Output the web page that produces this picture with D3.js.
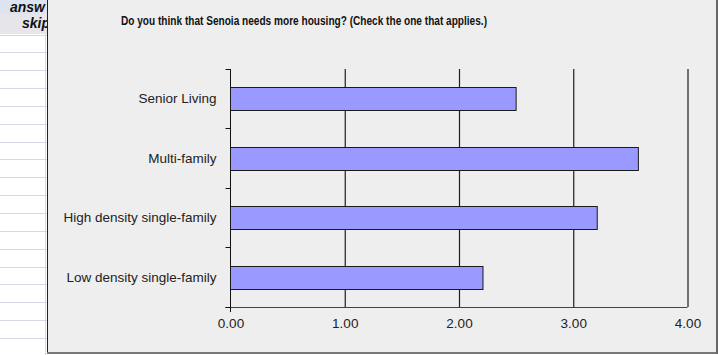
<!DOCTYPE html>
<html>
<head>
<meta charset="utf-8">
<script src="https://cdn.jsdelivr.net/npm/d3@7"></script>
<style>
  body { margin: 0; background: #fff; }
  svg { display: block; font-family: "Liberation Sans", Arial, sans-serif; }
</style>
</head>
<body>
<svg id="chart" width="718" height="355"></svg>
<script>
// chart data
const categories = ["Senior Living", "Multi-family", "High density single-family", "Low density single-family"];
const values = [2.50, 3.57, 3.21, 2.21];
const xTicks = [0, 1, 2, 3, 4];
const titleText = "Do you think that Senoia needs more housing? (Check the one that applies.)";
// spreadsheet cells peeking out on the left
const sheetHeaders = ["answ", "skip"];

const svg = d3.select('#chart');
const W = 718, H = 355;
const panelLeft = 47;
const plot = {left: 230.5, right: 687.5, top: 69, bottom: 307};

// ---- spreadsheet behind the chart ----
const sheet = svg.append('g');
sheet.append('rect').attr('x', 0).attr('y', 0).attr('width', panelLeft).attr('height', H).attr('fill', '#ffffff');
sheet.append('rect').attr('x', 0).attr('y', 0).attr('width', panelLeft).attr('height', 14).attr('fill', '#dce4f0');
sheet.append('rect').attr('x', 0).attr('y', 14).attr('width', panelLeft).attr('height', 20).attr('fill', '#e5e5ea');
let rowLines = d3.range(34.5, H, 17.85);
sheet.selectAll('line.row')
    .data(rowLines)
    .enter()
    .append('line')
    .attr('class', 'row')
    .attr('x1', 0).attr('x2', panelLeft)
    .attr('y1', d => Math.round(d) + 0.5).attr('y2', d => Math.round(d) + 0.5)
    .attr('stroke', '#d4d8e4')
;
sheet.append('line')
    .attr('x1', 45.5).attr('x2', 45.5).attr('y1', 34).attr('y2', H)
    .attr('stroke', '#d4d8e4');
sheet.selectAll('text')
    .data(sheetHeaders)
    .enter()
    .append('text')
    .attr('x', (d, i) => i === 0 ? 10 : 22)
    .attr('y', (d, i) => i === 0 ? 12 : 28)
    .style('font-size', '14px')
    .style('font-weight', 'bold')
    .style('font-style', 'italic')
    .attr('fill', '#111')
    .text(d => d)
;

// ---- chart panel ----
svg.append('rect')
    .attr('x', panelLeft).attr('y', -2)
    .attr('width', W - panelLeft + 2).attr('height', H - 1)
    .attr('fill', '#eeeeee');
svg.append('line')
    .attr('x1', panelLeft + 0.5).attr('x2', panelLeft + 0.5).attr('y1', 0).attr('y2', 354)
    .attr('stroke', '#222');
svg.append('line')
    .attr('x1', panelLeft).attr('x2', W).attr('y1', 353).attr('y2', 353)
    .attr('stroke', '#777').attr('stroke-width', 2);
svg.append('line')
    .attr('x1', 717).attr('x2', 717).attr('y1', 0).attr('y2', 354)
    .attr('stroke', '#666').attr('stroke-width', 2);

// title
svg.append('text')
    .attr('x', 304).attr('y', 25)
    .attr('text-anchor', 'middle')
    .attr('textLength', 366)
    .attr('lengthAdjust', 'spacingAndGlyphs')
    .style('font-size', '13.5px')
    .style('font-weight', 'bold')
    .attr('fill', '#111')
    .text(titleText)
;

// scales
let x = d3.scaleLinear().domain([0, 4]).range([plot.left, plot.right]);
let y = d3.scaleBand()
    .domain(categories)
    .range([plot.top, plot.bottom])
    .paddingInner(0.61)
    .paddingOuter(0.305)
;

// vertical gridlines
let grid = d3.axisBottom(x)
    .tickValues(xTicks.slice(1))
    .tickSize(-(plot.bottom - plot.top))
    .tickFormat('')
;
svg.append('g')
    .attr('transform', `translate(0, ${plot.bottom})`)
    .call(grid)
    .call(g => g.select('.domain').remove())
    .call(g => g.selectAll('line').attr('stroke', '#1e1e1e').attr('stroke-width', 1.2))
;

// x axis labels
let xAxis = d3.axisBottom(x)
    .tickValues(xTicks)
    .tickFormat(d3.format('.2f'))
    .tickSize(0)
    .tickPadding(11)
;
svg.append('g')
    .attr('transform', `translate(0, ${plot.bottom})`)
    .call(xAxis)
    .call(g => g.select('.domain').remove())
    .call(g => g.selectAll('text').style('font-size', '13.5px').attr('fill', '#222'))
;

// baseline
svg.append('line')
    .attr('x1', plot.left - 5).attr('x2', plot.right)
    .attr('y1', plot.bottom + 0.5).attr('y2', plot.bottom + 0.5)
    .attr('stroke', '#444');

// y axis: category labels
let yAxis = d3.axisLeft(y).tickSize(0).tickPadding(14);
svg.append('g')
    .attr('transform', `translate(${plot.left}, 0)`)
    .call(yAxis)
    .call(g => g.select('.domain').remove())
    .call(g => g.selectAll('text').style('font-size', '13.5px').attr('fill', '#222'))
;
// category boundary ticks
let bounds = categories.map(c => y(c) - y.step() * y.paddingInner() / 2).concat([plot.bottom]);
svg.selectAll('line.ctick')
    .data(bounds)
    .enter()
    .append('line')
    .attr('class', 'ctick')
    .attr('x1', plot.left - 5).attr('x2', plot.left)
    .attr('y1', d => Math.round(d) + 0.5).attr('y2', d => Math.round(d) + 0.5)
    .attr('stroke', '#111')
;
svg.append('line')
    .attr('x1', plot.left).attr('x2', plot.left)
    .attr('y1', plot.top).attr('y2', plot.bottom + 5)
    .attr('stroke', '#111');

// bars
svg.selectAll('rect.bar')
    .data(categories)
    .enter()
    .append('rect')
    .attr('class', 'bar')
    .attr('x', plot.left)
    .attr('y', c => Math.round(y(c)) + 0.5)
    .attr('width', (c, i) => x(values[i]) - x(0))
    .attr('height', Math.round(y.bandwidth()))
    .attr('fill', '#9999ff')
    .attr('stroke', '#1a1a1a')
;
</script>
</body>
</html>
